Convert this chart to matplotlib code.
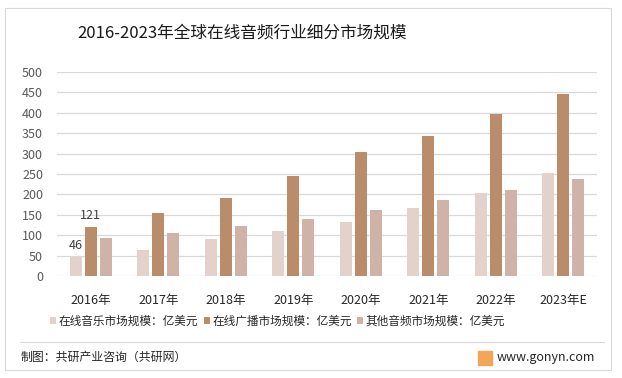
import numpy as np
import matplotlib.pyplot as plt
import matplotlib.patches as mpatches
import matplotlib

matplotlib.rcParams['font.family'] = ['Noto Sans CJK SC', 'DejaVu Sans']

years = ["2016年", "2017年", "2018年", "2019年", "2020年", "2021年", "2022年", "2023年E"]
music = [46, 64, 91, 111, 133, 167, 204, 253]
radio = [121, 155, 192, 246, 305, 344, 398, 447]
other = [94, 106, 123, 140, 162, 187, 211, 238]
series_names = ["在线音乐市场规模：亿美元", "在线广播市场规模：亿美元", "其他音频市场规模：亿美元"]
colors = ["#E3D2CB", "#B98D6C", "#D0B3A8"]

fig = plt.figure(figsize=(6.22, 3.78), dpi=100)
W, H = 622, 378

# outer frame and footer separator
fig.patches.append(mpatches.Rectangle((5 / W, 1 - 370 / H), 606 / W, 362 / H,
                                      transform=fig.transFigure, fill=False,
                                      edgecolor="#D9D9D9", linewidth=0.8))
fig.add_artist(plt.Line2D([20 / W, 604 / W], [1 - 342 / H, 1 - 342 / H],
                          transform=fig.transFigure, color="#D9D9D9", linewidth=0.8))

ax = fig.add_axes([57 / W, 1 - 276 / H, 540 / W, 204 / H])

x = np.arange(len(years))
w = 0.178
step = 0.222
for i, (vals, c, name) in enumerate(zip([music, radio, other], colors, series_names)):
    ax.bar(x + (i - 1) * step, vals, width=w, color=c, label=name, zorder=3)

# data labels only on first group
ax.text(x[0] - step, music[0] + 12, str(music[0]), ha="center", va="bottom",
        fontsize=9, color="#404040")
ax.text(x[0], radio[0] + 12, str(radio[0]), ha="center", va="bottom",
        fontsize=9, color="#404040")

ax.set_xlim(-0.5, len(years) - 0.5)
ax.set_ylim(0, 500)
ax.set_yticks(range(0, 501, 50))
ax.tick_params(axis="y", length=0, labelsize=9, labelcolor="#595959", pad=10)
ax.set_xticks(x)
ax.set_xticklabels(years)
ax.tick_params(axis="x", length=0, labelsize=9, labelcolor="#262626", pad=13)
ax.grid(True, axis="y", color="#D9D9D9", linewidth=0.9, zorder=0)
for s in ax.spines.values():
    s.set_visible(False)

fig.text(77 / W, 1 - 33 / H, "2016-2023年全球在线音频行业细分市场规模", fontsize=12,
         ha="left", va="center", color="#1a1a1a")

fig.legend(loc="center left", bbox_to_anchor=(50 / W, 1 - 321 / H), ncol=3, frameon=False,
           fontsize=8.4, handlelength=0.55, handleheight=0.55, handletextpad=0.2,
           columnspacing=0.45, labelcolor="#262626", borderaxespad=0, borderpad=0)

fig.text(21 / W, 1 - 357 / H, "制图：共研产业咨询（共研网）", fontsize=8.6,
         ha="left", va="center", color="#262626")
fig.patches.append(mpatches.Rectangle((478 / W, 1 - 365 / H), 14 / W, 14 / H,
                                      transform=fig.transFigure, color="#F2A65A"))
fig.text(497 / W, 1 - 357 / H, "www.gonyn.com", fontsize=9,
         ha="left", va="center", color="#262626")

plt.savefig("out.png", dpi=100)
